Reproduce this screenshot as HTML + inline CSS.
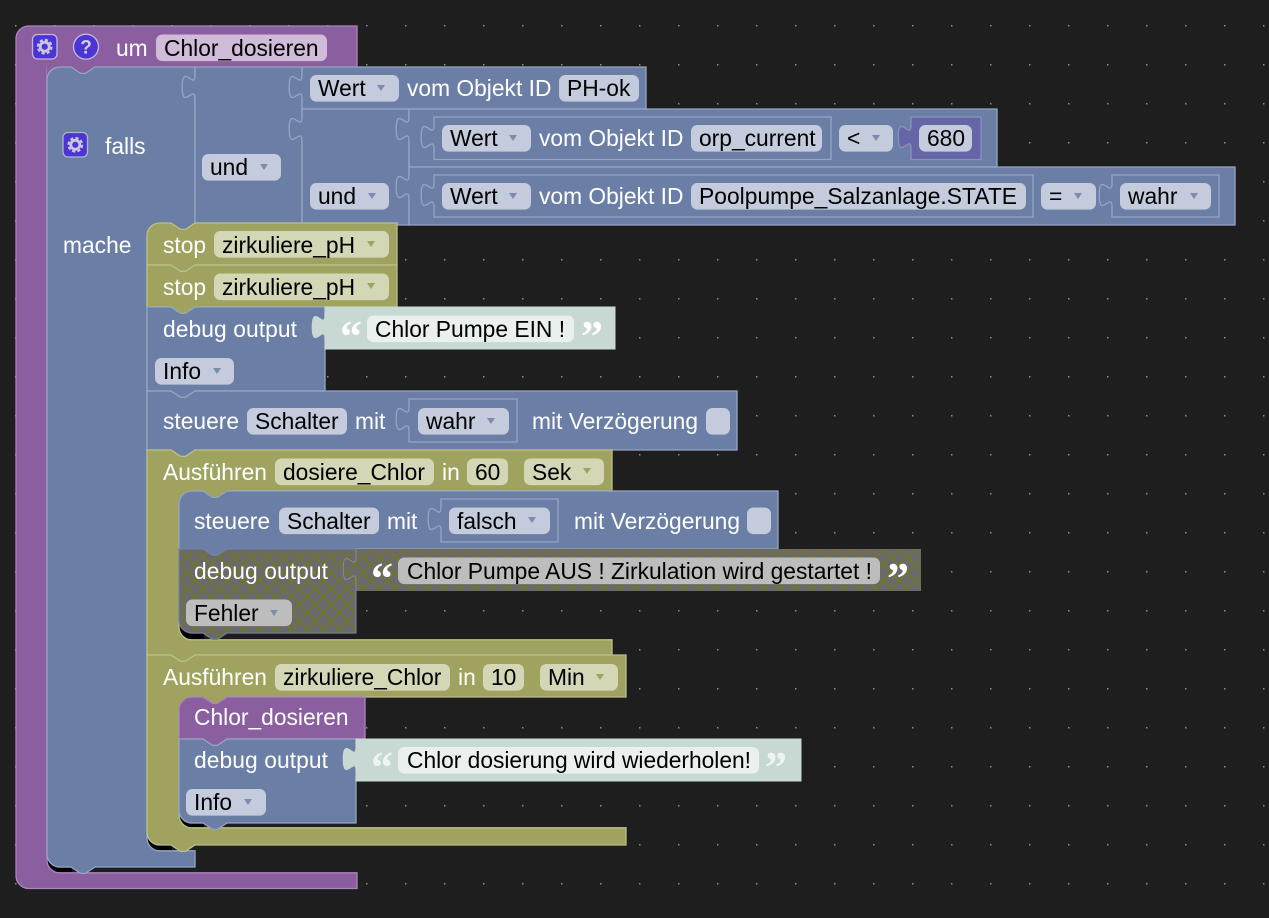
<!DOCTYPE html>
<html><head><meta charset="utf-8"><style>
html,body{margin:0;padding:0;background:#1e1e1e;width:1269px;height:918px;overflow:hidden}
svg{display:block}
text{font-family:"Liberation Sans",sans-serif;font-size:22.8px;fill:#000}
.w{fill:#fff}
.b{fill:#6b7fa6;stroke:#96a5c3;stroke-width:1.3}
.o{fill:#9fa35f;stroke:#bcbf8a;stroke-width:1.3}
.p{fill:#8b5e9f;stroke:#ab86bb;stroke-width:1.3}
.s{fill:#c8d9d3;stroke:#c8d9d3;stroke-width:1}
.d{fill:url(#hatch);stroke:#6b7fa6;stroke-width:1.2}
.ds{fill:url(#hatch);stroke:none}
.fb{fill:#c3cbdc}.fo{fill:#d3d7b6}.fp{fill:#d0bcd8}.fs{fill:#e9f0ee}.fd{fill:#bdbdbd}
.ab{fill:#7c8cae}.ao{fill:#9fa35f}
text.q{font-family:"Liberation Serif",serif;font-weight:bold;font-size:44px;fill:#fff}
</style></head><body>
<svg width="1269" height="918" viewBox="0 0 1269 918" xmlns="http://www.w3.org/2000/svg">
<defs>
<pattern id="dots" x="15" y="25" width="39" height="39" patternUnits="userSpaceOnUse"><rect x="-0.1" y="-0.1" width="1.6" height="1.6" fill="#8c8c8c"/></pattern>
<pattern id="hatch" x="179" y="549" width="16" height="16" patternUnits="userSpaceOnUse"><rect width="16" height="16" fill="#6a6a6a"/><path d="M0 0L16 16M16 0L0 16" stroke="#73732a" stroke-width="1.6"/></pattern>
</defs>
<rect width="1269" height="918" fill="#1e1e1e"/>
<rect width="1269" height="918" fill="url(#dots)"/>

<!-- shadow strips -->
<path d="M47 840V860a12.8 12.8 0 0 0 12.8 12.8H72V868H60a10 10 0 0 1-10-10V840Z" fill="#000"/>
<path d="M147 822V832a12.8 12.8 0 0 0 12.8 12.8H172V851H160a13 13 0 0 1-13-13Z" fill="#000"/>
<path d="M179 805V815a12.8 12.8 0 0 0 12.8 12.8H204V824H192a10 10 0 0 1-10-10V805Z" fill="#000"/>
<path d="M179 615V627a12.8 12.8 0 0 0 12.8 12.8H204V634H192a10 10 0 0 1-10-10V615Z" fill="#000"/>

<!-- purple outer -->
<path class="p" d="M16 38.8a12.8 12.8 0 0 1 12.8-12.8H357V68H47V860a12.8 12.8 0 0 0 12.8 12.8H357V888.5H28.8a12.8 12.8 0 0 1-12.8-12.8Z"/>
<rect x="47" y="67" width="50" height="14" fill="#8b5e9f"/>
<!-- blue falls -->
<path class="b" d="M47 79.8a12.8 12.8 0 0 1 12.8-12.8H71l9.6 6.4h4.8l9.6-6.4H195V223H147V838a12.8 12.8 0 0 0 12.8 12.8H195V867H95l-9.6 6.4h-4.8L71 867H59.8a12.8 12.8 0 0 1-12.8-12.8Z"/>
<rect x="146" y="222" width="51" height="15" fill="#6b7fa6"/>
<!-- und 1 -->
<path class="b" d="M195 67V75c0 16-12.8-12.8-12.8 12s12.8-4 12.8 12V223H302V67Z"/>
<path class="b" d="M302 67V75c0 16-12.8-12.8-12.8 12s12.8-4 12.8 12V109H646V67Z"/>
<path class="b" d="M302 109V117c0 16-12.8-12.8-12.8 12s12.8-4 12.8 12V225H409V109Z"/>
<path class="b" d="M409 109V117c0 16-12.8-12.8-12.8 12s12.8-4 12.8 12V167H997V109Z"/>
<path class="b" d="M409 167V175c0 16-12.8-12.8-12.8 12s12.8-4 12.8 12V225H1235V167Z"/>
<path class="b" d="M434 117V125c0 16-12.8-12.8-12.8 12s12.8-4 12.8 12V159.500H831V117Z"/>
<path d="M911 117V125c0 16-12.8-12.8-12.8 12s12.8-4 12.8 12V159.500H981V117Z" fill="#6466a6" stroke="#8d90c0" stroke-width="1.3"/>
<path class="b" d="M434 175V183c0 16-12.800-12.800-12.800 12s12.800-4 12.800 12V217H1033V175Z"/>
<path class="b" d="M1112 175V183c0 16-12.800-12.800-12.800 12s12.800-4 12.800 12V217H1219V175Z"/>

<!-- stop blocks -->
<path class="o" d="M147 235.800a12.800 12.800 0 0 1 12.800-12.800H171l9.600 6.400h4.800l9.600-6.400H397V265H195l-9.600 6.400h-4.800L171 265H147Z"/>
<path class="o" d="M147 265H171l9.600 6.400h4.800l9.600-6.400H397V307H195l-9.600 6.400h-4.800L171 307H147Z"/>
<!-- debug 1 -->
<path class="b" d="M147 307H171l9.600 6.400h4.800l9.600-6.400H325V391H195l-9.600 6.400h-4.800L171 391H147Z"/>
<path class="s" d="M325 307V315c0 16-12.800-12.800-12.800 12s12.800-4 12.800 12V349H615V307Z"/>
<!-- steuere 1 -->
<path class="b" d="M147 391H171l9.600 6.400h4.800l9.600-6.400H737V450H195l-9.600 6.400h-4.800L171 450H147Z"/>
<path class="b" d="M409 399V407c0 16-12.800-12.800-12.800 12s12.800-4 12.800 12V442H517V399Z"/>

<!-- Ausfuehren 1 -->
<path class="o" d="M147 450H171l9.600 6.400h4.800l9.600-6.400H612V491H179V627a12.800 12.800 0 0 0 12.800 12.800H612V655H195l-9.600 6.400h-4.800L171 655H147Z"/>
<rect x="178" y="490" width="51" height="15" fill="#9fa35f"/>
<path class="b" d="M179 503.800a12.800 12.800 0 0 1 12.800-12.800H203l9.600 6.400h4.800l9.600-6.400H778V549H227l-9.600 6.400h-4.800L203 549H179Z"/>
<path class="b" d="M441 499V507c0 16-12.800-12.800-12.800 12s12.800-4 12.800 12V542H558V499Z"/>
<path class="d" d="M179 549H203l9.600 6.400h4.800l9.600-6.400H356V633H227l-9.600 6.400h-4.800L203 633H191.800a12.800 12.800 0 0 1-12.800-12.800Z"/>
<path class="ds" d="M356 549V557c0 16-12.800-12.800-12.800 12s12.800-4 12.800 12V591H921V549Z"/>
<path d="M356 549V557c0 16-12.800-12.800-12.800 12s12.800-4 12.800 12V591" fill="none" stroke="#808a98" stroke-width="1"/>

<!-- Ausfuehren 2 -->
<path class="o" d="M147 655H171l9.600 6.400h4.800l9.600-6.400H626V697H179V815a12.800 12.800 0 0 0 12.800 12.800H626V845H195l-9.600 6.400h-4.800L171 845H159.800a12.800 12.800 0 0 1-12.800-12.800Z"/>
<rect x="178" y="696" width="51" height="15" fill="#9fa35f"/>
<path class="p" d="M179 709.800a12.800 12.800 0 0 1 12.800-12.800H203l9.600 6.400h4.800l9.600-6.400H365V739H227l-9.600 6.400h-4.800L203 739H179Z"/>
<path class="b" d="M179 739H203l9.600 6.400h4.800l9.600-6.400H356V823H227l-9.600 6.400h-4.800L203 823H191.800a12.800 12.800 0 0 1-12.800-12.800Z"/>
<path class="s" d="M356 739V747c0 16-12.800-12.800-12.800 12s12.800-4 12.800 12V781H801V739Z"/>

<!-- fields -->
<g>
<rect class="fp" x="156" y="34.500" width="171" height="26.600" rx="6.400"/>
<rect class="fb" x="202" y="154" width="79" height="26.600" rx="6.400"/>
<rect class="fb" x="310" y="75" width="89" height="26.600" rx="6.400"/>
<rect class="fb" x="559" y="75" width="80" height="26.600" rx="6.400"/>
<rect class="fb" x="310" y="183" width="79" height="26.600" rx="6.400"/>
<rect class="fb" x="442" y="125" width="89" height="26.600" rx="6.400"/>
<rect class="fb" x="691" y="125" width="131" height="26.600" rx="6.400"/>
<rect class="fb" x="839" y="125" width="54" height="26.600" rx="6.400"/>
<rect class="fb" x="919" y="125" width="53" height="26.600" rx="6.400"/>
<rect class="fb" x="442" y="183" width="89" height="26.600" rx="6.400"/>
<rect class="fb" x="691" y="183" width="335" height="26.600" rx="6.400"/>
<rect class="fb" x="1041" y="183" width="55" height="26.600" rx="6.400"/>
<rect class="fb" x="1120" y="183" width="91" height="26.600" rx="6.400"/>
<rect class="fo" x="214" y="231" width="175" height="26.600" rx="6.400"/>
<rect class="fo" x="214" y="273.500" width="175" height="26.600" rx="6.400"/>
<rect class="fs" x="367" y="315.500" width="207" height="26.600" rx="6.400"/>
<rect class="fb" x="155" y="358" width="79" height="26.600" rx="6.400"/>
<rect class="fb" x="247" y="408" width="100" height="26.600" rx="6.400"/>
<rect class="fb" x="418" y="408" width="91" height="26.600" rx="6.400"/>
<rect class="fb" x="706" y="408" width="24" height="26.600" rx="6.400"/>
<rect class="fo" x="275" y="458.500" width="159" height="26.600" rx="6.400"/>
<rect class="fo" x="467" y="458.500" width="41" height="26.600" rx="6.400"/>
<rect class="fo" x="524" y="458.500" width="80" height="26.600" rx="6.400"/>
<rect class="fb" x="279" y="507.500" width="100" height="26.600" rx="6.400"/>
<rect class="fb" x="449" y="507.500" width="101" height="26.600" rx="6.400"/>
<rect class="fb" x="747" y="507.500" width="24" height="26.600" rx="6.400"/>
<rect class="fd" x="398" y="557.500" width="482" height="26.600" rx="6.400"/>
<rect class="fd" x="186" y="599.500" width="106" height="26.600" rx="6.400"/>
<rect class="fo" x="275" y="664" width="175" height="26.600" rx="6.400"/>
<rect class="fo" x="483" y="664" width="41" height="26.600" rx="6.400"/>
<rect class="fo" x="540" y="664" width="78" height="26.600" rx="6.400"/>
<rect class="fs" x="398" y="747" width="361" height="26.600" rx="6.400"/>
<rect class="fb" x="186" y="789" width="80" height="26.600" rx="6.400"/>
</g>

<!-- dropdown arrows -->
<g class="ab">
<path d="M260 164h8l-4 6Z"/><path d="M377 85h8l-4 6Z"/><path d="M368 193h8l-4 6Z"/>
<path d="M509 135h8l-4 6Z"/><path d="M872 135h8l-4 6Z"/><path d="M509 193h8l-4 6Z"/>
<path d="M1074 193h8l-4 6Z"/><path d="M1190 193h8l-4 6Z"/><path d="M213 368h8l-4 6Z"/>
<path d="M487 418h8l-4 6Z"/><path d="M528 517h8l-4 6Z"/><path d="M270 610h8l-4 6Z"/><path d="M244 799h8l-4 6Z"/>
</g>
<g class="ao">
<path d="M367 241h8l-4 6Z"/><path d="M367 283h8l-4 6Z"/><path d="M583 468h8l-4 6Z"/><path d="M596 674h8l-4 6Z"/>
</g>

<!-- icons -->
<g>
<rect x="32.500" y="34.500" width="24.500" height="24.500" rx="5" fill="#4c35d4" stroke="#c3b8dc" stroke-width="1.300"/>
<circle cx="44.700" cy="46.700" r="4.500" fill="none" stroke="#c9c5e2" stroke-width="2.800"/>
<circle cx="44.700" cy="46.700" r="6.800" fill="none" stroke="#c9c5e2" stroke-width="2.200" stroke-dasharray="3.200 2.130"/>
<circle cx="86" cy="46.700" r="12.500" fill="#4c35d4" stroke="#c3b8dc" stroke-width="1.300"/>
<text x="86" y="53.500" text-anchor="middle" style="font-size:19px;font-weight:bold;fill:#d3cfe8">?</text>
<rect x="63" y="132.500" width="24.500" height="24.500" rx="5" fill="#4c35d4" stroke="#a9b4d0" stroke-width="1.300"/>
<circle cx="75.300" cy="144.800" r="4.500" fill="none" stroke="#c9c5e2" stroke-width="2.800"/>
<circle cx="75.300" cy="144.800" r="6.800" fill="none" stroke="#c9c5e2" stroke-width="2.200" stroke-dasharray="3.200 2.130"/>
</g>

<!-- quotes -->
<text class="q" x="340" y="351">“</text><text class="q" x="581" y="351">”</text>
<text class="q" x="371" y="593">“</text><text class="q" x="887" y="593">”</text>
<text class="q" x="371" y="782" style="fill:#eef4f2">“</text><text class="q" x="765" y="782" style="fill:#eef4f2">”</text>

<!-- labels -->
<text class="w" x="116" y="56">um</text><text x="164" y="56">Chlor_dosieren</text>
<text class="w" x="105" y="154">falls</text><text class="w" x="63" y="253">mache</text>
<text x="210" y="175">und</text><text x="318" y="204">und</text>
<text x="318" y="96">Wert</text><text class="w" x="407" y="96">vom Objekt ID</text><text x="567" y="96">PH-ok</text>
<text x="450" y="146">Wert</text><text class="w" x="539" y="146">vom Objekt ID</text><text x="699" y="146">orp_current</text><text x="847" y="146">&lt;</text><text x="927" y="146">680</text>
<text x="450" y="204">Wert</text><text class="w" x="539" y="204">vom Objekt ID</text><text x="699" y="204" textLength="318">Poolpumpe_Salzanlage.STATE</text><text x="1049" y="204">=</text><text x="1128" y="204">wahr</text>
<text class="w" x="163" y="253">stop</text><text x="222" y="253">zirkuliere_pH</text>
<text class="w" x="163" y="295">stop</text><text x="222" y="295">zirkuliere_pH</text>
<text class="w" x="163" y="337" textLength="134">debug output</text><text x="375" y="337">Chlor Pumpe EIN !</text>
<text x="163" y="379">Info</text>
<text class="w" x="163" y="429">steuere</text><text x="255" y="429">Schalter</text><text class="w" x="355" y="429">mit</text><text x="426" y="429">wahr</text><text class="w" x="532" y="429">mit Verzögerung</text>
<text class="w" x="163" y="480">Ausführen</text><text x="283" y="480">dosiere_Chlor</text><text class="w" x="442" y="480">in</text><text x="475" y="480">60</text><text x="532" y="480">Sek</text>
<text class="w" x="194" y="529">steuere</text><text x="287" y="529">Schalter</text><text class="w" x="387" y="529">mit</text><text x="457" y="529">falsch</text><text class="w" x="574" y="529">mit Verzögerung</text>
<text class="w" x="194" y="579" textLength="134">debug output</text><text x="407" y="579" textLength="465">Chlor Pumpe AUS ! Zirkulation wird gestartet !</text>
<text x="194" y="621">Fehler</text>
<text class="w" x="163" y="685">Ausführen</text><text x="283" y="685">zirkuliere_Chlor</text><text class="w" x="458" y="685">in</text><text x="491" y="685">10</text><text x="548" y="685">Min</text>
<text class="w" x="194" y="725">Chlor_dosieren</text>
<text class="w" x="194" y="768" textLength="134">debug output</text><text x="407" y="768" textLength="344">Chlor dosierung wird wiederholen!</text>
<text x="194" y="810">Info</text>
</svg>
</body></html>
